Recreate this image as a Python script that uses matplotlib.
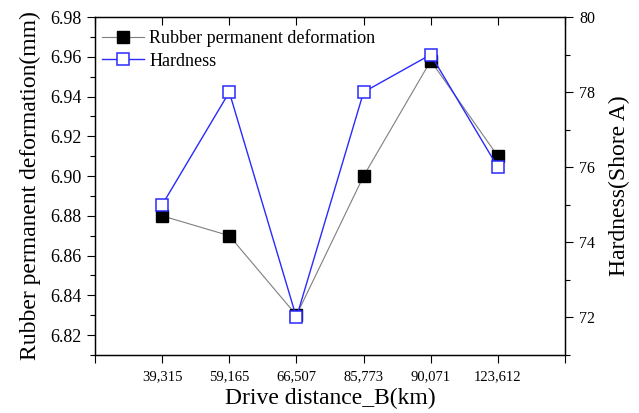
import matplotlib
matplotlib.use("Agg")
import matplotlib.pyplot as plt
from matplotlib.ticker import MultipleLocator

plt.rcParams['font.family'] = ['Liberation Serif', 'DejaVu Serif']

categories = ["39,315", "59,165", "66,507", "85,773", "90,071", "123,612"]
deformation = [6.88, 6.87, 6.83, 6.90, 6.958, 6.91]
hardness = [75, 78, 72, 78, 79, 76]

x = list(range(1, len(categories) + 1))

fig = plt.figure(figsize=(6.39, 4.13), dpi=100)
ax = fig.add_axes([0.1487, 0.1404, 0.7355, 0.8184])
ax2 = ax.twinx()

l1, = ax.plot(x, deformation, color='#7f7f7f', lw=0.8, marker='s', ms=8.5,
              mfc='black', mec='black', zorder=3, label='Rubber permanent deformation')
l2, = ax2.plot(x, hardness, color='#2a2aff', lw=1.0, marker='s', ms=8.5,
               mfc='white', mec='#2a2aff', mew=1.1, zorder=3, label='Hardness')

ax.set_xlim(0, 7)
ax.set_ylim(6.81, 6.98)
ax2.set_ylim(71, 80)

ax.set_xticks(range(0, 8))
ax.set_xticklabels([''] + categories + [''], fontsize=10.5)
ax.yaxis.set_major_locator(MultipleLocator(0.02))
ax.yaxis.set_minor_locator(MultipleLocator(0.01))
ax.yaxis.set_major_formatter(matplotlib.ticker.FormatStrFormatter('%.2f'))
ax2.yaxis.set_major_locator(MultipleLocator(2))
ax2.yaxis.set_minor_locator(MultipleLocator(1))

ax.tick_params(axis='y', which='major', direction='out', length=6, width=0.8, labelsize=13)
ax.tick_params(axis='y', which='minor', direction='out', length=3.5, width=0.8)
ax.tick_params(axis='x', which='major', direction='out', length=6, width=0.8,
               top=True, pad=5)
ax2.tick_params(axis='y', which='major', direction='out', length=6, width=0.8,
                labelsize=11.5, pad=4)
ax2.tick_params(axis='y', which='minor', direction='out', length=3.5, width=0.8)

# inward ticks along the top spine
for t in ax.xaxis.get_major_ticks():
    t.tick2line.set_marker(matplotlib.lines.TICKDOWN)

for a in (ax, ax2):
    for s in a.spines.values():
        s.set_linewidth(0.9)

ax.set_xlabel('Drive distance_B(km)', fontsize=17, labelpad=3)
ax.set_ylabel('Rubber permanent deformation(mm)', fontsize=17, labelpad=7)
ax2.set_ylabel('Hardness(Shore A)', fontsize=17, labelpad=10)

leg = ax.legend(handles=[l1, l2], loc='upper left', frameon=False, fontsize=13,
                handlelength=2.3, handletextpad=0.3, borderaxespad=0.1,
                labelspacing=0.3, borderpad=0.3,
                bbox_to_anchor=(0.0, 0.985))

fig.savefig('out.png', dpi=100)
